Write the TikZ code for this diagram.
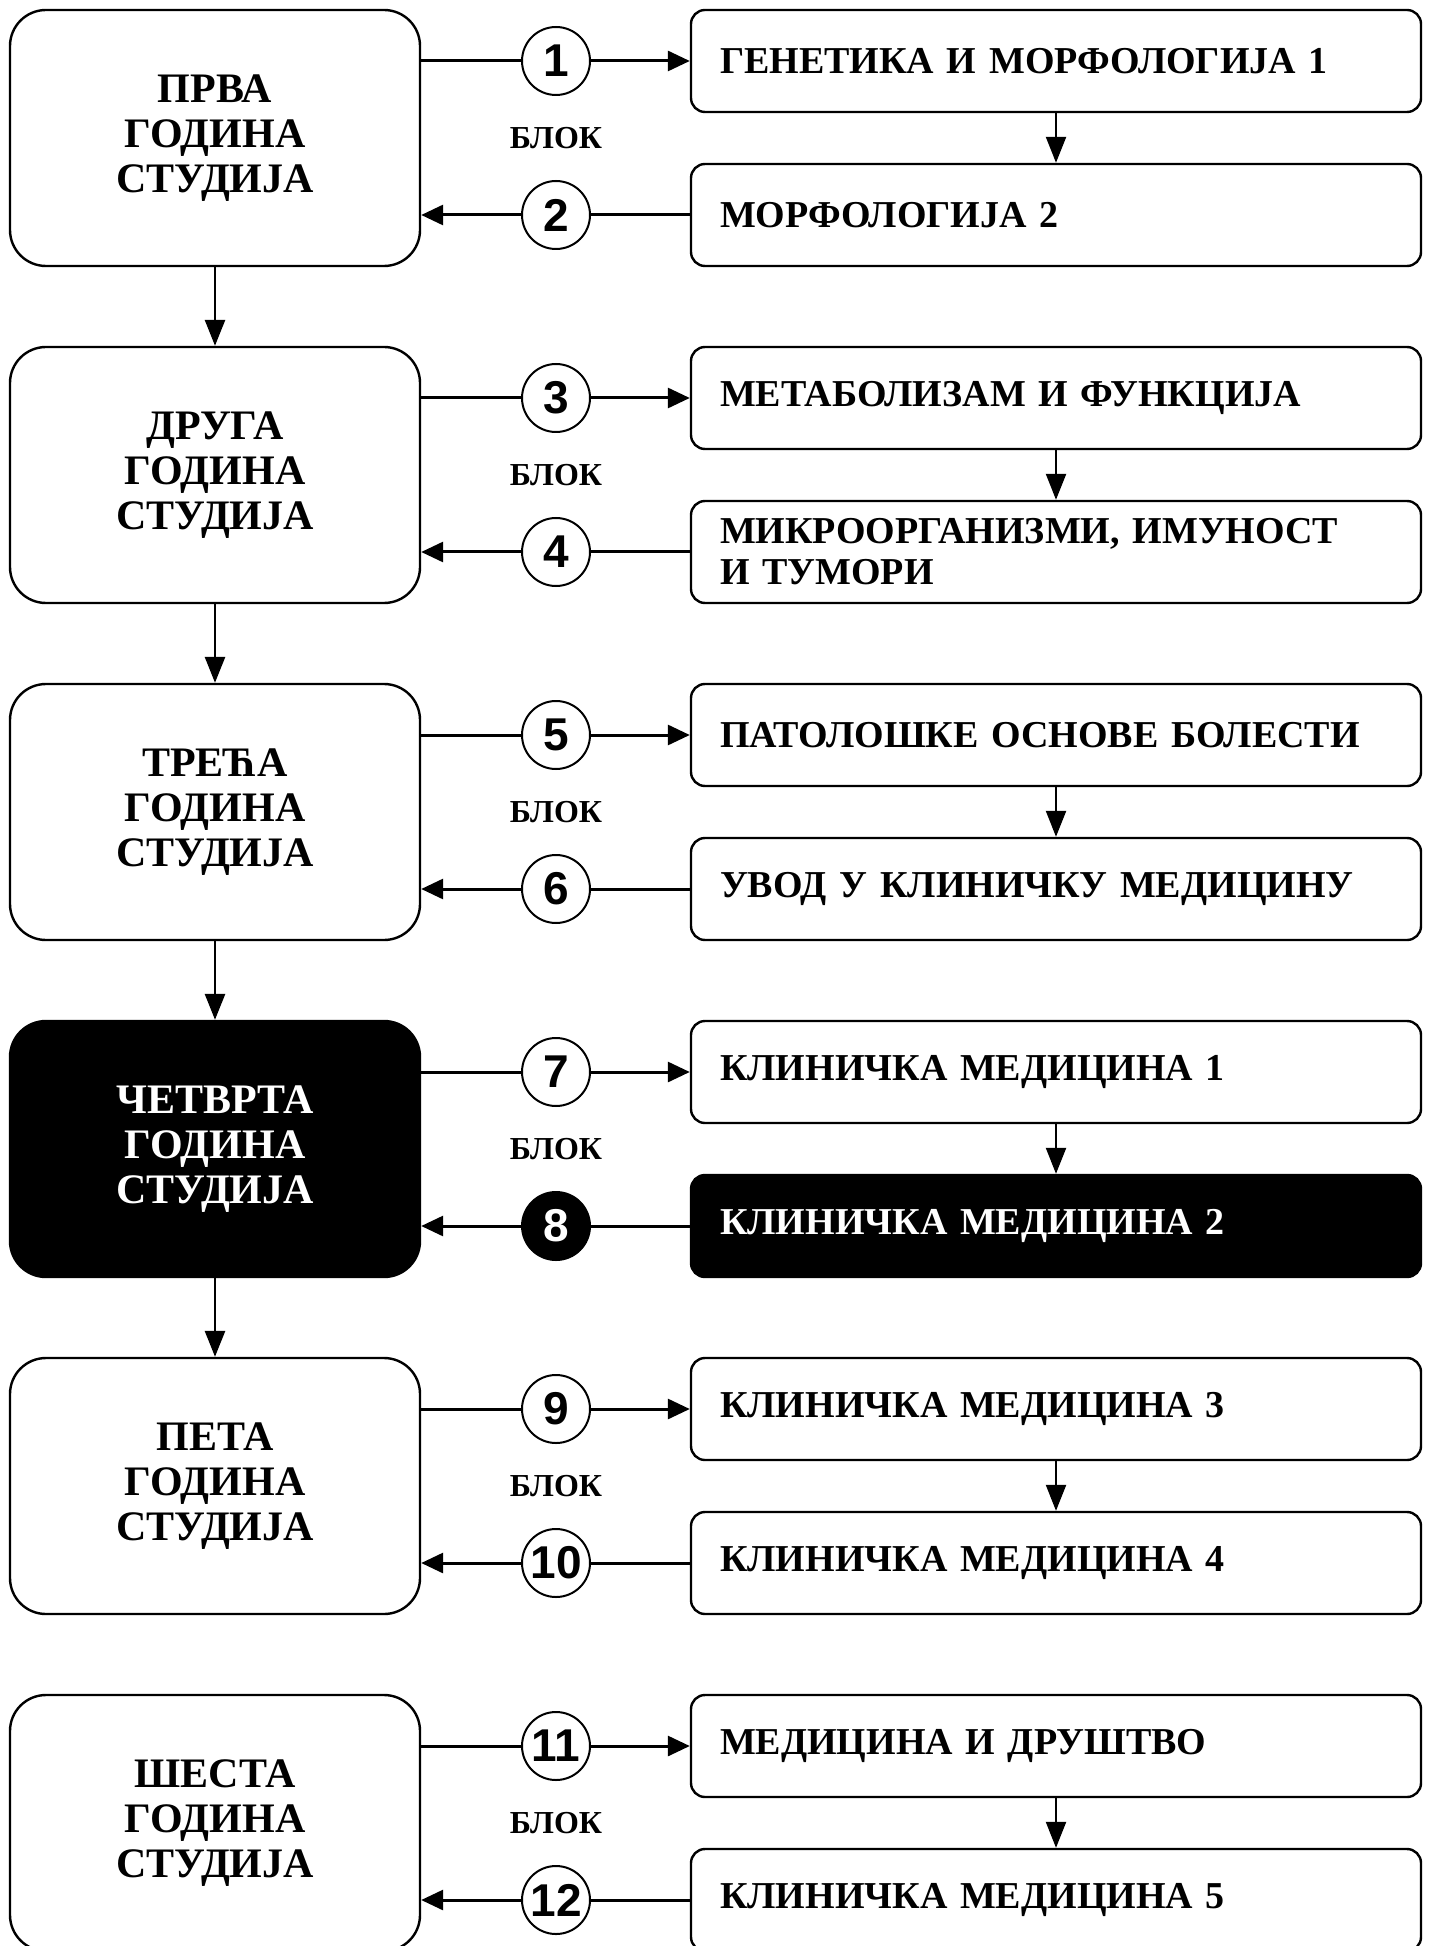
\documentclass[tikz,border=0pt]{standalone}
\usepackage{fontspec}
\setmainfont{Liberation Serif}
\newfontfamily\brojfont{Liberation Sans}
\usetikzlibrary{arrows.meta}
\tikzset{
  godina/.style={draw, line width=1.2pt, rounded corners=18pt, minimum width=205pt, minimum height=128pt, align=center, font=\bfseries\fontsize{21}{22.6}\selectfont},
  predmet/.style={draw, line width=1.2pt, rounded corners=7pt, minimum height=51pt, text width=336pt, inner xsep=14.5pt, align=left, font=\bfseries\fontsize{19}{20.5}\selectfont},
  broj/.style={draw, circle, line width=1pt, minimum size=34pt, inner sep=0pt, fill=white, font=\brojfont\bfseries\fontsize{23}{24}\selectfont},
  oznaka/.style={font=\bfseries\fontsize{16}{18}\selectfont},
  crno/.style={fill=black, text=white},
  veza/.style={line width=1.5pt},
  strelica/.style={line width=1.5pt, -{Triangle[length=11pt,width=10pt]}},
  dole/.style={line width=1.2pt, -{Triangle[length=13pt,width=10pt]}}
}
\begin{document}
\begin{tikzpicture}[x=0.5pt, y=-0.5pt]
\useasboundingbox (0,0) rectangle (1430,1946);
% Прва година
\node[godina] (god1) at (215,138) {ПРВА\\ГОДИНА\\СТУДИЈА};
\node[predmet] (blok1) at (1056,61) {ГЕНЕТИКА И МОРФОЛОГИЈА 1};
\node[predmet] (blok2) at (1056,215) {МОРФОЛОГИЈА 2};
\node[broj] (br1) at (556,61) {1};
\node[broj] (br2) at (556,215) {2};
\node[oznaka] (ozn1) at (556,138) {БЛОК};
% Друга година
\node[godina] (god2) at (215,475) {ДРУГА\\ГОДИНА\\СТУДИЈА};
\node[predmet] (blok3) at (1056,398) {МЕТАБОЛИЗАМ И ФУНКЦИЈА};
\node[predmet] (blok4) at (1056,552) {МИКРООРГАНИЗМИ, ИМУНОСТ\\И ТУМОРИ};
\node[broj] (br3) at (556,398) {3};
\node[broj] (br4) at (556,552) {4};
\node[oznaka] (ozn2) at (556,475) {БЛОК};
% Трећа година
\node[godina] (god3) at (215,812) {ТРЕЋА\\ГОДИНА\\СТУДИЈА};
\node[predmet] (blok5) at (1056,735) {ПАТОЛОШКЕ ОСНОВЕ БОЛЕСТИ};
\node[predmet] (blok6) at (1056,889) {УВОД У КЛИНИЧКУ МЕДИЦИНУ};
\node[broj] (br5) at (556,735) {5};
\node[broj] (br6) at (556,889) {6};
\node[oznaka] (ozn3) at (556,812) {БЛОК};
% Четврта година (истакнута)
\node[godina, crno] (god4) at (215,1149) {ЧЕТВРТА\\ГОДИНА\\СТУДИЈА};
\node[predmet] (blok7) at (1056,1072) {КЛИНИЧКА МЕДИЦИНА 1};
\node[predmet, crno] (blok8) at (1056,1226) {КЛИНИЧКА МЕДИЦИНА 2};
\node[broj] (br7) at (556,1072) {7};
\node[broj, crno] (br8) at (556,1226) {8};
\node[oznaka] (ozn4) at (556,1149) {БЛОК};
% Пета година
\node[godina] (god5) at (215,1486) {ПЕТА\\ГОДИНА\\СТУДИЈА};
\node[predmet] (blok9) at (1056,1409) {КЛИНИЧКА МЕДИЦИНА 3};
\node[predmet] (blok10) at (1056,1563) {КЛИНИЧКА МЕДИЦИНА 4};
\node[broj] (br9) at (556,1409) {9};
\node[broj] (br10) at (556,1563) {10};
\node[oznaka] (ozn5) at (556,1486) {БЛОК};
% Шеста година
\node[godina] (god6) at (215,1823) {ШЕСТА\\ГОДИНА\\СТУДИЈА};
\node[predmet] (blok11) at (1056,1746) {МЕДИЦИНА И ДРУШТВО};
\node[predmet] (blok12) at (1056,1900) {КЛИНИЧКА МЕДИЦИНА 5};
\node[broj] (br11) at (556,1746) {11};
\node[broj] (br12) at (556,1900) {12};
\node[oznaka] (ozn6) at (556,1823) {БЛОК};
% Везе година -> блок -> година
\draw[veza] (god1.east |- br1) -- (br1); \draw[strelica] (br1) -- (blok1);
\draw[dole] (blok1) -- (blok2);
\draw[veza] (blok2) -- (br2); \draw[strelica] (br2) -- (god1.east |- br2);
\draw[veza] (god2.east |- br3) -- (br3); \draw[strelica] (br3) -- (blok3);
\draw[dole] (blok3) -- (blok4);
\draw[veza] (blok4) -- (br4); \draw[strelica] (br4) -- (god2.east |- br4);
\draw[veza] (god3.east |- br5) -- (br5); \draw[strelica] (br5) -- (blok5);
\draw[dole] (blok5) -- (blok6);
\draw[veza] (blok6) -- (br6); \draw[strelica] (br6) -- (god3.east |- br6);
\draw[veza] (god4.east |- br7) -- (br7); \draw[strelica] (br7) -- (blok7);
\draw[dole] (blok7) -- (blok8);
\draw[veza] (blok8) -- (br8); \draw[strelica] (br8) -- (god4.east |- br8);
\draw[veza] (god5.east |- br9) -- (br9); \draw[strelica] (br9) -- (blok9);
\draw[dole] (blok9) -- (blok10);
\draw[veza] (blok10) -- (br10); \draw[strelica] (br10) -- (god5.east |- br10);
\draw[veza] (god6.east |- br11) -- (br11); \draw[strelica] (br11) -- (blok11);
\draw[dole] (blok11) -- (blok12);
\draw[veza] (blok12) -- (br12); \draw[strelica] (br12) -- (god6.east |- br12);
% Прелаз из године у годину
\draw[dole, line width=1.4pt] (god1) -- (god2);
\draw[dole, line width=1.4pt] (god2) -- (god3);
\draw[dole, line width=1.4pt] (god3) -- (god4);
\draw[dole, line width=1.4pt] (god4) -- (god5);
\end{tikzpicture}
\end{document}
